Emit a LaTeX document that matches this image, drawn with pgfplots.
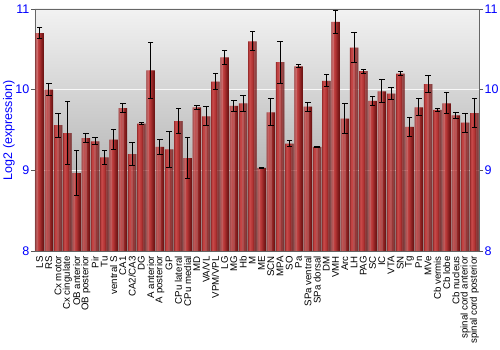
\documentclass[border=0pt]{standalone}
\usepackage{fontspec}
\setmainfont{Liberation Sans}
\usepackage{pgfplots}
\pgfplotsset{compat=1.18}
\usepackage{pgfplotstable}
\definecolor{tickblue}{RGB}{0,0,255}
\definecolor{b0}{RGB}{135,32,32}
\definecolor{b1}{RGB}{206,78,78}
\definecolor{b2}{RGB}{175,50,50}
\definecolor{b3}{RGB}{105,18,18}
\definecolor{bgtop}{RGB}{242,242,242}
\definecolor{bgbot}{RGB}{155,155,155}

\pgfplotstableread{
x y e
0 10.70 0.07
1 10.00 0.075
2 9.56 0.15
3 9.46 0.39
4 8.965 0.275
5 9.40 0.055
6 9.36 0.045
7 9.16 0.085
8 9.38 0.12
9 9.77 0.055
10 9.20 0.14
11 9.58 0.015
12 10.24 0.345
13 9.29 0.095
14 9.26 0.22
15 9.61 0.155
16 9.15 0.255
17 9.78 0.02
18 9.67 0.12
19 10.10 0.095
20 10.40 0.085
21 9.80 0.07
22 9.83 0.095
23 10.60 0.12
24 9.03 0.01
25 9.72 0.17
26 10.34 0.26
27 9.33 0.04
28 10.29 0.02
29 9.79 0.055
30 9.29 0.01
31 10.11 0.075
32 10.84 0.14
33 9.64 0.185
34 10.52 0.185
35 10.23 0.025
36 9.86 0.055
37 9.98 0.145
38 9.95 0.075
39 10.20 0.02
40 9.54 0.12
41 9.78 0.105
42 10.07 0.10
43 9.75 0.02
44 9.83 0.13
45 9.68 0.04
46 9.59 0.115
47 9.71 0.185
}\datatable

\begin{document}
\begin{tikzpicture}
\pgfplotsset{
  common/.style={
    at={(0,0)}, anchor=south west,
    scale only axis, width=444pt, height=242pt,
    xmin=-0.5, xmax=47.5, ymin=8, ymax=11,
    ytick={8,9,10,11},
    /pgf/number format/assume math mode=true,
    tick align=outside,
    major tick length=4pt,
    ytick style={gray!70!black, line width=0.6pt},
    yticklabel style={font=\fontsize{12.5}{14}\selectfont, text=tickblue, inner sep=1.5pt},
    axis line style={gray!80!black, line width=0.8pt},
  },
  stripe/.style 2 args={ybar, bar width=0.106, bar shift={#1}, fill={#2}, draw=none, forget plot},
  whisker/.style={only marks, mark=-, mark size=2.8pt, black, mark options={line width=1pt, solid}, forget plot},
}
\begin{axis}[
  common,
  ytick pos=left,
  axis background/.style={top color=bgtop, bottom color=bgbot},
  ymajorgrids,
  grid style={white, line width=0.9pt, opacity=0.85},
  xtick={0,...,47},
  xticklabels={LS, RS, Cx motor, Cx cingulate, OB anterior, OB posterior, Pir, Tu, ventral S, CA1, CA2/CA3, DG, A anterior, A posterior, GP, CPu lateral, CPu medial, MD, VA/VL, VPM/VPL, LG, MG, Hb, M, ME, SCN, MPA, SO, Pa, SPa ventral, SPa dorsal, DM, VMH, Arc, LH, PAG, SC, IC, VTA, SN, Tg, Pn, MVe, Cb vermis, Cb lobe, Cb nucleus, spinal cord anterior, spinal cord posterior},
  xtick style={draw=none},
  xticklabel style={rotate=90, anchor=east, font=\fontsize{9.7}{10}\selectfont, inner sep=1pt},
  ylabel={Log2 (expression)},
  every axis y label/.style={at={(axis description cs:-0.0586,0.5)}, rotate=90, anchor=center, font=\fontsize{12.5}{14}\selectfont, text=tickblue},
]
\addplot[stripe={-0.40}{b0!75!b1}] table[x=x, y=y]{\datatable};
\addplot[stripe={-0.30}{b1!75!b0}] table[x=x, y=y]{\datatable};
\addplot[stripe={-0.20}{b1!83!b2}] table[x=x, y=y]{\datatable};
\addplot[stripe={-0.10}{b1!49!b2}] table[x=x, y=y]{\datatable};
\addplot[stripe={0.10}{b2!86!b3}] table[x=x, y=y]{\datatable};
\addplot[stripe={0.20}{b2!62!b3}] table[x=x, y=y]{\datatable};
\addplot[stripe={0.30}{b2!37!b3}] table[x=x, y=y]{\datatable};
\addplot[stripe={0.40}{b2!12!b3}] table[x=x, y=y]{\datatable};
\addplot[stripe={0.00}{b1!15!b2},
  error bars/.cd, y dir=both, y explicit,
  error mark=none,
  error bar style={draw=black, line width=1pt}]
  table[x=x, y=y, y error=e]{\datatable};
\addplot[whisker] table[x=x, y expr=\thisrow{y}+\thisrow{e}]{\datatable};
\addplot[whisker] table[x=x, y expr=\thisrow{y}-\thisrow{e}]{\datatable};
\end{axis}
\begin{axis}[
  common,
  axis y line*=right,
  axis x line=none,
]
\end{axis}
\pgfresetboundingbox
\path (-35pt,-99pt) rectangle (465pt,251pt);
\end{tikzpicture}
\end{document}
